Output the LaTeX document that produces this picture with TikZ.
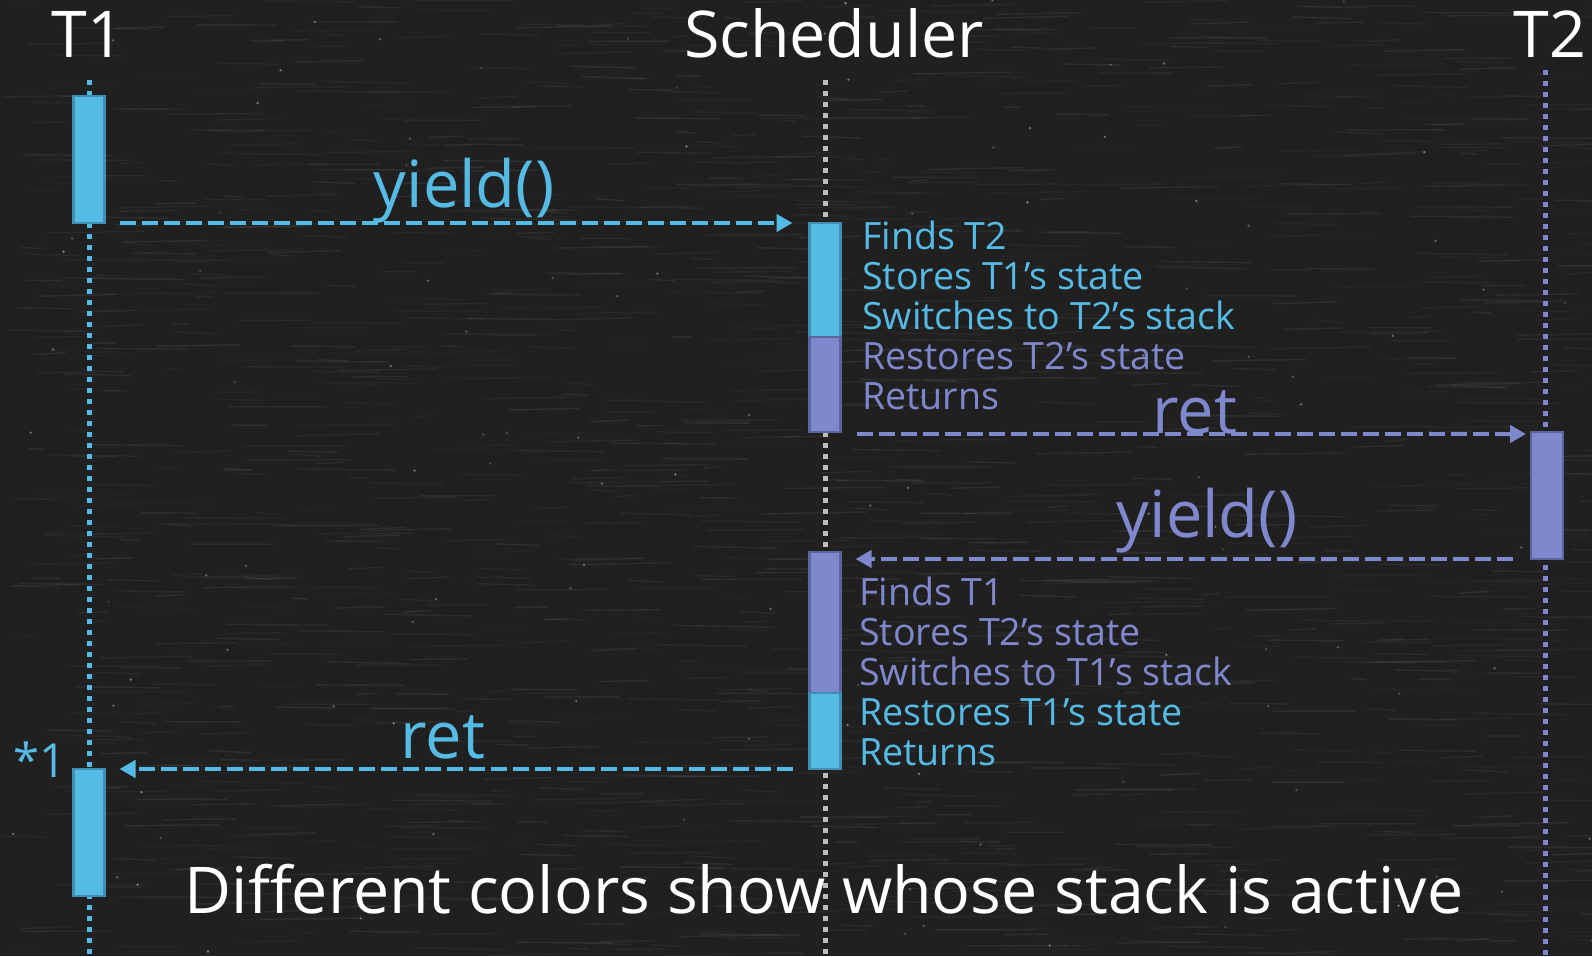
\documentclass[tikz,border=0pt]{standalone}
\usepackage{fontspec}
\setmainfont{Open Sans}
\usetikzlibrary{arrows.meta}

\definecolor{board}{HTML}{202020}
\definecolor{cyanstack}{HTML}{55BBE4}
\definecolor{cyanedge}{HTML}{3F8FB6}
\definecolor{violetstack}{HTML}{8088CD}
\definecolor{violetedge}{HTML}{5E649C}
\definecolor{schedline}{HTML}{BDBDBD}

\tikzset{
  lifeline/.style={line width=5pt, dash pattern=on 5pt off 6pt},
  actbox/.style={rectangle, draw, line width=2.5pt, minimum width=31pt, inner sep=0pt, outer sep=0pt},
  cybox/.style={actbox, fill=cyanstack, draw=cyanedge},
  vibox/.style={actbox, fill=violetstack, draw=violetedge},
  msg/.style={line width=4.5pt, dash pattern=on 16pt off 6pt, -{Triangle[length=16pt,width=17pt]}},
  head/.style={text=white, font=\fontsize{64.5}{72}\selectfont, anchor=base, inner sep=0pt},
  msglabel/.style={font=\fontsize{65}{72}\selectfont, anchor=base, inner sep=0pt},
  step text/.style={font=\fontsize{37.6}{44}\selectfont, anchor=base west, inner sep=0pt},
}

\begin{document}
\begin{tikzpicture}[x=1pt, y=-1pt]
  % chalkboard
  \useasboundingbox (0,0) rectangle (1592,956);
  \fill[board] (0,0) rectangle (1592,956);
  \pgfmathsetseed{11}
  \foreach \k in {1,...,1400}{
    \pgfmathsetmacro\xx{rnd*1592}
    \pgfmathsetmacro\yy{rnd*956}
    \pgfmathsetmacro\ll{15+rnd*90}
    \pgfmathsetmacro\oo{0.02+rnd*0.05}
    \pgfmathsetmacro\dy{rnd*4-2}
    \draw[white, opacity=\oo, line width=1.4pt, line cap=round] (\xx,\yy) -- ++(\ll,\dy);
  }
  \foreach \k in {1,...,120}{
    \pgfmathsetmacro\xx{rnd*1592}
    \pgfmathsetmacro\yy{rnd*956}
    \pgfmathsetmacro\oo{0.15+rnd*0.3}
    \fill[white, opacity=\oo] (\xx,\yy) circle (1.3pt);
  }

  % participants
  \node[head] (t1) at (88,57) {T1};
  \node[head] (sch) at (834,57) {Scheduler};
  \node[head] (t2) at (1550,57) {T2};

  % lifelines
  \coordinate (t1top) at (89,80);
  \coordinate (t1bot) at (89,956);
  \coordinate (schtop) at (825,80);
  \coordinate (schbot) at (825,956);
  \coordinate (t2top) at (1545,70);
  \coordinate (t2bot) at (1545,956);
  \draw[lifeline, cyanstack] (t1top) -- (t1bot);
  \draw[lifeline, schedline] (schtop) -- (schbot);
  \draw[lifeline, violetstack] (t2top) -- (t2bot);

  % activation bars
  \node[cybox, minimum height=127pt] (a1) at (89,159.5) {};
  \node[cybox, minimum height=114pt] (s1a) at (825,280) {};
  \node[vibox, minimum height=95pt] (s1b) at (825,384.5) {};
  \node[vibox, minimum height=127pt, minimum width=32pt] (b1) at (1547,495.5) {};
  \node[vibox, minimum height=141pt] (s2a) at (825,622.5) {};
  \node[cybox, minimum height=76pt] (s2b) at (825,731) {};
  \node[cybox, minimum height=127pt] (a2) at (89,832.5) {};

  % messages
  \draw[msg, cyanstack] ([xshift=15pt]a1.south east) -- ([xshift=-17pt]s1a.north west);
  \draw[msg, violetstack] ([xshift=16pt,yshift=-2pt]s1b.south east) -- ([xshift=-5pt,yshift=-2pt]s1b.south east -| b1.west);
  \draw[msg, violetstack] ([xshift=-18pt]b1.south west) -- ([xshift=15pt]b1.south -| s2a.east);
  \draw[msg, cyanstack] ([xshift=-17pt]s2b.south west) -- ([xshift=15pt]a2.north east);

  % message labels
  \node[msglabel, text=cyanstack] (y1) at (464,207) {yield()};
  \node[msglabel, text=violetstack] (r1) at (1195,433) {ret};
  \node[msglabel, text=violetstack] (y2) at (1207,537) {yield()};
  \node[msglabel, text=cyanstack] (r2) at (443,758) {ret};
  \node[font=\fontsize{47}{52}\selectfont, text=cyanstack, anchor=base west, inner sep=0pt] (mark) at (13,777) {*1};

  % scheduler work, first switch
  \node[step text, text=cyanstack] (p1) at (862,249) {Finds T2};
  \node[step text, text=cyanstack] (p2) at (862,289) {Stores T1’s state};
  \node[step text, text=cyanstack] (p3) at (862,329) {Switches to T2’s stack};
  \node[step text, text=violetstack] (p4) at (862,369) {Restores T2’s state};
  \node[step text, text=violetstack] (p5) at (862,409) {Returns};

  % scheduler work, second switch
  \node[step text, text=violetstack] (q1) at (859,605) {Finds T1};
  \node[step text, text=violetstack] (q2) at (859,645) {Stores T2’s state};
  \node[step text, text=violetstack] (q3) at (859,685) {Switches to T1’s stack};
  \node[step text, text=cyanstack] (q4) at (859,725) {Restores T1’s state};
  \node[step text, text=cyanstack] (q5) at (859,765) {Returns};

  % caption
  \node[head] (cap) at (824,913) {Different colors show whose stack is active};
\end{tikzpicture}
\end{document}
